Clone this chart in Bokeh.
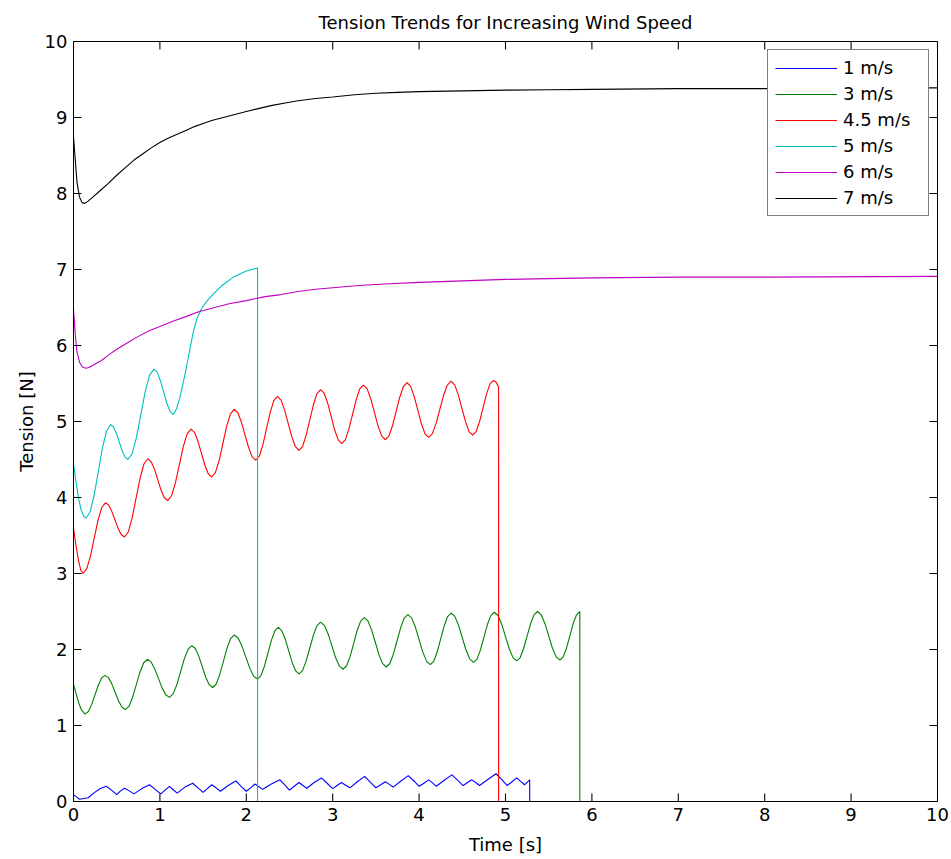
import numpy as np
from bokeh.plotting import figure
from bokeh.models import Range1d, FixedTicker, Legend, LegendItem
from bokeh.embed import file_html
from bokeh.resources import INLINE

# ---- data ----
series_labels = ["1 m/s", "3 m/s", "4.5 m/s", "5 m/s", "6 m/s", "7 m/s"]
series_colors = ["#0000ff", "#008000", "#ff0000", "#00bfbf", "#bf00bf", "#000000"]

t_1 = [0, 0.07, 0.17, 0.245, 0.31, 0.38, 0.44, 0.50, 0.545, 0.59, 0.645, 0.70, 0.79, 0.88, 0.945,
       1.01, 1.06, 1.11, 1.155, 1.20, 1.29, 1.38, 1.44, 1.50, 1.55, 1.60, 1.65, 1.70, 1.79, 1.88,
       1.94, 2.00, 2.05, 2.10, 2.145, 2.19, 2.29, 2.39, 2.445, 2.50, 2.555, 2.61, 2.655, 2.70,
       2.785, 2.87, 2.935, 3.00, 3.05, 3.10, 3.15, 3.20, 3.285, 3.37, 3.435, 3.50, 3.555, 3.61,
       3.655, 3.70, 3.79, 3.875, 3.94, 4.00, 4.055, 4.11, 4.155, 4.20, 4.29, 4.38, 4.445, 4.51,
       4.56, 4.61, 4.655, 4.70, 4.795, 4.89, 4.955, 5.02, 5.075, 5.13, 5.175, 5.22, 5.28, 5.28, 10]
v_1 = [0.09, 0.03, 0.05, 0.12, 0.17, 0.20, 0.15, 0.09, 0.14, 0.175, 0.14, 0.10, 0.17, 0.22, 0.16,
       0.10, 0.15, 0.20, 0.155, 0.11, 0.19, 0.24, 0.18, 0.12, 0.17, 0.22, 0.18, 0.135, 0.21, 0.27,
       0.20, 0.135, 0.18, 0.23, 0.195, 0.16, 0.23, 0.285, 0.22, 0.15, 0.20, 0.25, 0.21, 0.175,
       0.25, 0.31, 0.24, 0.17, 0.21, 0.25, 0.215, 0.18, 0.26, 0.33, 0.255, 0.18, 0.22, 0.26,
       0.225, 0.19, 0.27, 0.34, 0.27, 0.20, 0.24, 0.285, 0.245, 0.20, 0.28, 0.35, 0.28, 0.21,
       0.25, 0.285, 0.25, 0.21, 0.29, 0.365, 0.29, 0.21, 0.26, 0.31, 0.265, 0.22, 0.285, 0, 0]

t_3 = [0.0, 0.03, 0.06, 0.09, 0.133,
       0.172, 0.211, 0.249, 0.288, 0.326, 0.365,
       0.404, 0.443, 0.483, 0.522, 0.561, 0.60,
       0.643, 0.685, 0.728, 0.77, 0.813, 0.855,
       0.898, 0.94, 0.983, 1.025, 1.068, 1.11,
       1.153, 1.197, 1.24, 1.283, 1.327, 1.37,
       1.41, 1.45, 1.49, 1.53, 1.57, 1.61,
       1.652, 1.693, 1.735, 1.777, 1.818, 1.86,
       1.905, 1.95, 1.995, 2.04, 2.085, 2.13,
       2.17, 2.21, 2.25, 2.29, 2.33, 2.37,
       2.41, 2.45, 2.49, 2.53, 2.57, 2.61,
       2.652, 2.693, 2.735, 2.777, 2.818, 2.86,
       2.903, 2.947, 2.99, 3.033, 3.077, 3.12,
       3.161, 3.202, 3.243, 3.283, 3.324, 3.365,
       3.408, 3.45, 3.493, 3.535, 3.578, 3.62,
       3.662, 3.703, 3.745, 3.787, 3.828, 3.87,
       3.913, 3.957, 4.0, 4.043, 4.087, 4.13,
       4.17, 4.21, 4.25, 4.29, 4.33, 4.37,
       4.413, 4.457, 4.50, 4.543, 4.587, 4.63,
       4.67, 4.71, 4.75, 4.79, 4.83, 4.87,
       4.913, 4.957, 5.0, 5.043, 5.087, 5.13,
       5.17, 5.21, 5.25, 5.29, 5.33, 5.37,
       5.413, 5.457, 5.50, 5.543, 5.587, 5.63,
       5.668, 5.707, 5.745, 5.783, 5.822, 5.86, 5.86, 10]
v_3 = [1.54, 1.42, 1.30, 1.21, 1.15,
       1.184, 1.278, 1.405, 1.533, 1.626, 1.66,
       1.630, 1.548, 1.435, 1.323, 1.240, 1.21,
       1.254, 1.375, 1.54, 1.705, 1.826, 1.87,
       1.837, 1.745, 1.62, 1.495, 1.404, 1.37,
       1.416, 1.54, 1.71, 1.88, 2.004, 2.05,
       2.013, 1.913, 1.775, 1.638, 1.537, 1.50,
       1.546, 1.673, 1.845, 2.018, 2.144, 2.19,
       2.151, 2.045, 1.90, 1.755, 1.649, 1.61,
       1.656, 1.78, 1.95, 2.12, 2.244, 2.29,
       2.249, 2.138, 1.985, 1.833, 1.721, 1.68,
       1.726, 1.85, 2.02, 2.19, 2.314, 2.36,
       2.318, 2.205, 2.05, 1.895, 1.782, 1.74,
       1.786, 1.91, 2.08, 2.25, 2.374, 2.42,
       2.376, 2.258, 2.095, 1.933, 1.814, 1.77,
       1.816, 1.943, 2.115, 2.288, 2.414, 2.46,
       2.416, 2.295, 2.13, 1.965, 1.844, 1.80,
       1.846, 1.97, 2.14, 2.31, 2.434, 2.48,
       2.436, 2.318, 2.155, 1.993, 1.874, 1.83,
       1.874, 1.995, 2.16, 2.325, 2.446, 2.49,
       2.447, 2.33, 2.17, 2.01, 1.893, 1.85,
       1.894, 2.013, 2.175, 2.338, 2.456, 2.50,
       2.457, 2.34, 2.18, 2.02, 1.903, 1.86,
       1.903, 2.02, 2.18, 2.34, 2.457, 2.50, 0, 0]

t_45 = [0.0, 0.03, 0.06, 0.085, 0.11,
        0.153, 0.197, 0.24, 0.283, 0.327, 0.37,
        0.407, 0.443, 0.48, 0.517, 0.553, 0.59,
        0.635, 0.68, 0.725, 0.77, 0.815, 0.86,
        0.898, 0.937, 0.975, 1.013, 1.052, 1.09,
        1.135, 1.18, 1.225, 1.27, 1.315, 1.36,
        1.40, 1.44, 1.48, 1.52, 1.56, 1.60,
        1.643, 1.687, 1.73, 1.773, 1.817, 1.86,
        1.902, 1.943, 1.985, 2.027, 2.068, 2.11,
        2.152, 2.193, 2.235, 2.277, 2.318, 2.36,
        2.402, 2.443, 2.485, 2.527, 2.568, 2.61,
        2.652, 2.693, 2.735, 2.777, 2.818, 2.86,
        2.901, 2.942, 2.983, 3.023, 3.064, 3.105,
        3.147, 3.188, 3.23, 3.272, 3.313, 3.355,
        3.398, 3.44, 3.483, 3.525, 3.568, 3.61,
        3.652, 3.693, 3.735, 3.777, 3.818, 3.86,
        3.902, 3.943, 3.985, 4.027, 4.068, 4.11,
        4.153, 4.197, 4.24, 4.283, 4.327, 4.37,
        4.412, 4.453, 4.495, 4.537, 4.578, 4.62,
        4.66, 4.70, 4.74, 4.78, 4.82, 4.86,
        4.89, 4.92, 4.92, 10]
v_45 = [3.59, 3.36, 3.16, 3.04, 3.00,
        3.062, 3.233, 3.465, 3.698, 3.868, 3.93,
        3.90, 3.818, 3.705, 3.593, 3.51, 3.48,
        3.549, 3.738, 3.995, 4.253, 4.441, 4.51,
        4.473, 4.373, 4.235, 4.098, 3.997, 3.96,
        4.023, 4.195, 4.43, 4.665, 4.837, 4.90,
        4.858, 4.743, 4.585, 4.428, 4.312, 4.27,
        4.33, 4.493, 4.715, 4.938, 5.10, 5.16,
        5.115, 4.993, 4.825, 4.658, 4.535, 4.49,
        4.546, 4.70, 4.91, 5.12, 5.274, 5.33,
        5.282, 5.153, 4.975, 4.798, 4.668, 4.62,
        4.674, 4.82, 5.02, 5.22, 5.366, 5.42,
        5.372, 5.243, 5.065, 4.888, 4.758, 4.71,
        4.762, 4.903, 5.095, 5.288, 5.428, 5.48,
        5.432, 5.30, 5.12, 4.94, 4.808, 4.76,
        4.81, 4.948, 5.135, 5.323, 5.46, 5.51,
        5.462, 5.33, 5.15, 4.97, 4.838, 4.79,
        4.84, 4.975, 5.16, 5.345, 5.48, 5.53,
        5.482, 5.353, 5.175, 4.998, 4.868, 4.82,
        4.868, 5.0, 5.18, 5.36, 5.492, 5.54,
        5.52, 5.45, 0, 0]

t_5 = [0.0, 0.03, 0.06, 0.09, 0.12, 0.145,
       0.193, 0.24, 0.288, 0.335, 0.383, 0.43,
       0.463, 0.497, 0.53, 0.563, 0.597, 0.63,
       0.68, 0.73, 0.78, 0.83, 0.88, 0.93,
       0.968, 1.005, 1.043, 1.08, 1.118, 1.155,
       1.19, 1.23, 1.27, 1.31, 1.35, 1.39, 1.43, 1.48, 1.54, 1.62, 1.72, 1.85, 2.0, 2.13,
       2.13, 10]
v_5 = [4.44, 4.20, 3.98, 3.83, 3.75, 3.73,
       3.812, 4.038, 4.345, 4.653, 4.878, 4.96,
       4.929, 4.845, 4.73, 4.615, 4.531, 4.50,
       4.58, 4.798, 5.095, 5.393, 5.61, 5.69,
       5.65, 5.54, 5.39, 5.24, 5.13, 5.09,
       5.16, 5.31, 5.51, 5.73, 5.97, 6.20, 6.36, 6.48, 6.58, 6.68, 6.79, 6.90, 6.98, 7.02,
       0, 0]

t_6 = [0, 0.02, 0.04, 0.07, 0.1, 0.14, 0.18, 0.24, 0.32, 0.4, 0.5, 0.63, 0.75, 0.87, 1.0, 1.15,
       1.3, 1.44, 1.6, 1.8, 2.0, 2.2, 2.4, 2.6, 2.8, 3.0, 3.3, 3.6, 4.0, 4.5, 5.0, 5.5, 6.0, 7.0,
       8.0, 10.0]
v_6 = [6.48, 6.15, 5.92, 5.78, 5.72, 5.70, 5.71, 5.75, 5.80, 5.87, 5.95, 6.04, 6.12, 6.19, 6.25,
       6.32, 6.38, 6.44, 6.49, 6.55, 6.59, 6.64, 6.67, 6.71, 6.74, 6.76, 6.79, 6.81, 6.83, 6.85,
       6.87, 6.88, 6.89, 6.90, 6.90, 6.91]

t_7 = [0, 0.02, 0.04, 0.07, 0.1, 0.13, 0.17, 0.22, 0.3, 0.4, 0.5, 0.6, 0.7, 0.8, 0.9, 1.0, 1.1,
       1.2, 1.3, 1.4, 1.5, 1.6, 1.7, 1.8, 1.9, 2.0, 2.15, 2.3, 2.45, 2.6, 2.8, 3.0, 3.25, 3.5,
       3.75, 4.0, 4.5, 5.0, 5.5, 6.0, 7.0, 8.0, 9.0, 10.0]
v_7 = [8.75, 8.45, 8.15, 7.95, 7.88, 7.87, 7.90, 7.95, 8.03, 8.13, 8.24, 8.34, 8.44, 8.52, 8.60,
       8.67, 8.73, 8.78, 8.83, 8.88, 8.92, 8.96, 8.99, 9.02, 9.05, 9.08, 9.12, 9.16, 9.19, 9.22,
       9.25, 9.27, 9.30, 9.32, 9.33, 9.34, 9.35, 9.36, 9.365, 9.37, 9.38, 9.38, 9.39, 9.39]

x_ticks = [0, 1, 2, 3, 4, 5, 6, 7, 8, 9, 10]
y_ticks = [0, 1, 2, 3, 4, 5, 6, 7, 8, 9, 10]
x_min, x_max = 0, 10
y_min, y_max = 0, 10

FONT = "DejaVu Sans"
FS = "18px"
W, H = 951, 859
BL, BR, BT, BB = 73, 14, 41, 58
TICK_PX = 8

p = figure(width=W, height=H, output_backend="svg", toolbar_location=None,
           x_range=Range1d(x_min, x_max), y_range=Range1d(y_min, y_max),
           title="Tension Trends for Increasing Wind Speed",
           min_border_left=BL, min_border_right=BR, min_border_top=BT, min_border_bottom=BB)

p.title.align = "center"
p.title.text_font = FONT
p.title.text_font_size = FS
p.title.text_font_style = "normal"
p.title.text_color = "black"
p.title.standoff = 18

p.xgrid.visible = False
p.ygrid.visible = False
p.outline_line_color = "black"
p.outline_line_width = 1
p.outline_line_alpha = 1
p.background_fill_color = "white"
p.border_fill_color = "white"

for ax, ticks in ((p.xaxis[0], x_ticks), (p.yaxis[0], y_ticks)):
    ax.ticker = FixedTicker(ticks=ticks)
    ax.major_tick_in = 0
    ax.major_tick_out = 0
    ax.minor_tick_line_color = None
    ax.major_label_text_font = FONT
    ax.major_label_text_font_size = FS
    ax.major_label_text_color = "black"
    ax.axis_label_text_font = FONT
    ax.axis_label_text_font_size = FS
    ax.axis_label_text_font_style = "normal"
    ax.axis_label_text_color = "black"
    ax.axis_line_color = "black"
    ax.major_tick_line_color = "black"
    ax.major_label_standoff = 6

p.xaxis[0].axis_label = "Time [s]"
p.yaxis[0].axis_label = "Tension [N]"
p.xaxis[0].axis_label_standoff = 10
p.yaxis[0].axis_label_standoff = 5

# data series first (drawn in MATLAB order), legend built from them
data = [(t_1, v_1), (t_3, v_3), (t_45, v_45), (t_5, v_5), (t_6, v_6), (t_7, v_7)]
items = []
for (tx, vy), lab, col in zip(data, series_labels, series_colors):
    r = p.line(tx, vy, line_color=col, line_width=1.1)
    items.append(LegendItem(label=lab, renderers=[r]))

# inward tick marks on all four sides (MATLAB box style), drawn as broken lines
dx = TICK_PX * (x_max - x_min) / (W - BL - BR)
dy = TICK_PX * (y_max - y_min) / (H - BT - BB)


def tick_path(positions, edge, inward):
    a = []
    b = []
    for v in positions:
        a += [v, v, np.nan]
        b += [edge, edge + inward, np.nan]
    return np.array(a, dtype=float), np.array(b, dtype=float)


bx, by = tick_path(x_ticks, y_min, dy)
tx_, ty_ = tick_path(x_ticks, y_max, -dy)
ly, lx = tick_path(y_ticks, x_min, dx)
ry, rx = tick_path(y_ticks, x_max, -dx)
for xs, ys in ((bx, by), (tx_, ty_), (lx, ly), (rx, ry)):
    p.line(xs, ys, line_color="black", line_width=1.1)

legend = Legend(items=items, location=(694, 585))
legend.label_text_font = FONT
legend.label_text_font_size = FS
legend.label_text_color = "black"
legend.glyph_width = 62
legend.glyph_height = 20
legend.label_height = 20
legend.label_width = 78
legend.label_standoff = 6
legend.spacing = 5
legend.padding = 7
legend.margin = 0
legend.border_line_color = "black"
legend.border_line_width = 1
legend.background_fill_color = "white"
legend.background_fill_alpha = 1
p.add_layout(legend, "center")

open("out.html", "w").write(file_html(p, INLINE))
